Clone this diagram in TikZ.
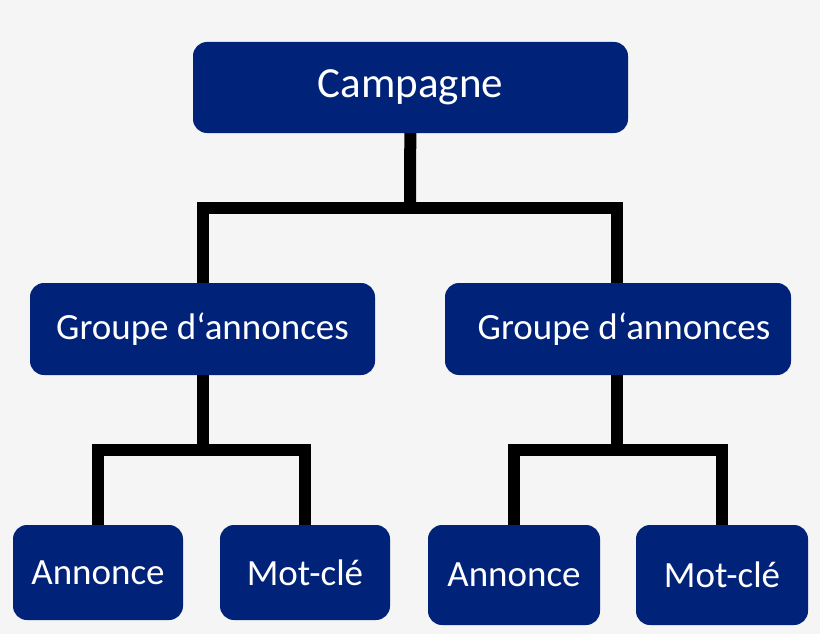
\documentclass[tikz,border=0pt]{standalone}
\usepackage{fontspec}
\setmainfont{Carlito}
\usetikzlibrary{positioning, backgrounds}
\definecolor{navy}{RGB}{0, 34, 120}
\definecolor{paper}{RGB}{245, 245, 245}

\begin{document}
\begin{tikzpicture}[x=1pt, y=-1pt,
    box/.style={draw=none, fill=navy, rounded corners=14pt, text=white, inner sep=0pt},
    link/.style={line width=12pt, black}]
    \useasboundingbox (0,0) rectangle (820,634);

    \node[box, minimum width=435pt, minimum height=91pt, font=\fontsize{43}{50}\selectfont] (camp) at (410.5,87.5) {Campagne};
    \node[box, minimum width=345pt, minimum height=92pt, font=\fontsize{37}{44}\selectfont] (groupL) at (202.5,329) {Groupe d‘annonces};
    \node[box, minimum width=346pt, minimum height=92pt, font=\fontsize{37}{44}\selectfont] (groupR) at (618,329) {\hspace*{12pt}Groupe d‘annonces};
    \node[box, minimum width=170pt, minimum height=95pt, font=\fontsize{37}{44}\selectfont] (adL) at (98,572.5) {Annonce};
    \node[box, minimum width=170pt, minimum height=95pt, font=\fontsize{37}{44}\selectfont] (kwL) at (305,572.5) {Mot-clé};
    \node[box, minimum width=172pt, minimum height=100pt, font=\fontsize{37}{44}\selectfont] (adR) at (514,575) {Annonce};
    \node[box, minimum width=172pt, minimum height=100pt, font=\fontsize{37}{44}\selectfont] (kwR) at (722,575) {Mot-clé};

    \coordinate (top) at (410,208);
    \coordinate (midL) at (203,450);
    \coordinate (midR) at (617,450);

    \begin{scope}[on background layer]
        \fill[paper] (0,0) rectangle (820,634);
        \draw[link] (camp) -- (top);
        \draw[link] (groupL.north -| midL) |- (top) -| (groupR.north -| midR);
        \draw[link] (groupL.south -| midL) -- (midL);
        \draw[link] (adL.north) |- (midL) -| (kwL.north);
        \draw[link] (groupR.south -| midR) -- (midR);
        \draw[link] (adR.north) |- (midR) -| (kwR.north);
    \end{scope}
\end{tikzpicture}
\end{document}
